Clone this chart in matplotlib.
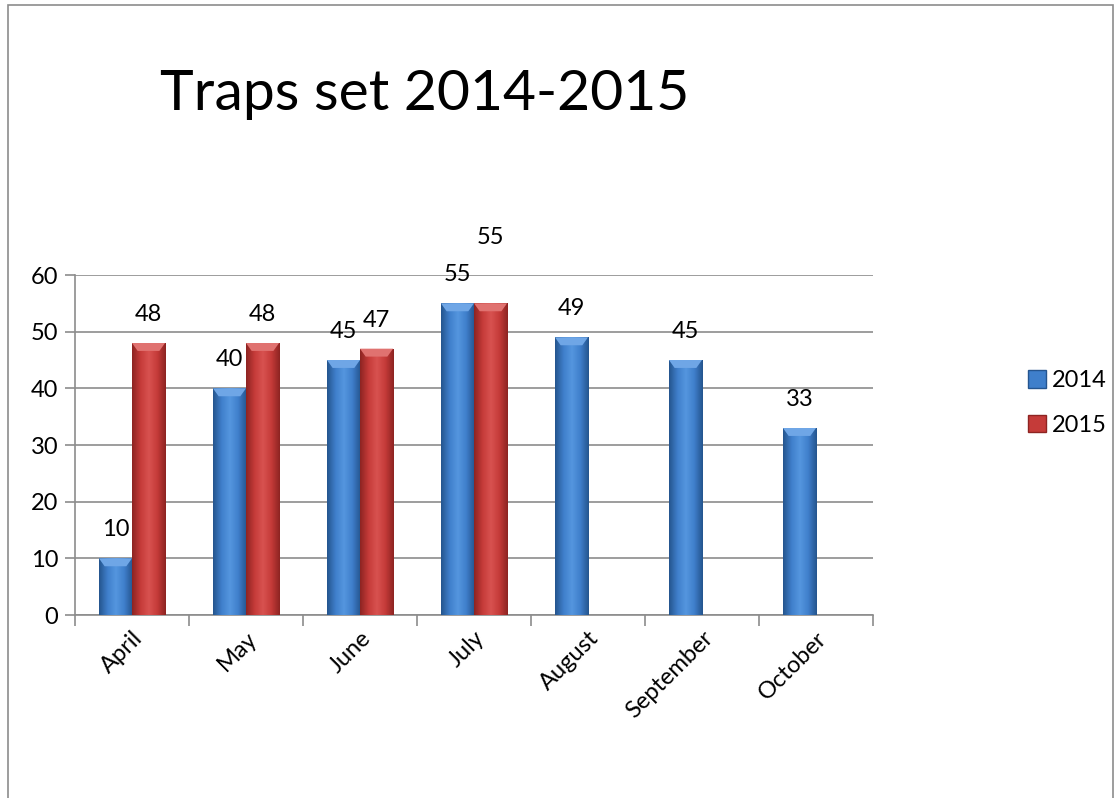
import numpy as np
import matplotlib.pyplot as plt
from matplotlib.patches import Rectangle, Patch
from matplotlib.colors import LinearSegmentedColormap

months = ['April', 'May', 'June', 'July', 'August', 'September', 'October']
traps_2014 = [10, 40, 45, 55, 49, 45, 33]
traps_2015 = [48, 48, 47, 55, None, None, None]

plt.rcParams['font.family'] = ['Lato', 'DejaVu Sans']

fig = plt.figure(figsize=(11.15, 7.98), dpi=100)
ax = fig.add_axes([75 / 1115, 1 - 615 / 798, 798 / 1115, 340 / 798])

# grey frame around the chart area
fig.patches.append(Rectangle((8 / 1115, -0.01), 1 - 10 / 1115, 1 - 5 / 798 + 0.01,
                             transform=fig.transFigure, fill=False,
                             edgecolor='#8c8c8c', linewidth=1.2))

blue_cmap = LinearSegmentedColormap.from_list('b', ['#25558f', '#3f7fcb', '#5596df', '#3f7fcb', '#25558f'])
red_cmap = LinearSegmentedColormap.from_list('r', ['#8e2422', '#c53b39', '#d85250', '#c53b39', '#8e2422'])

x = np.arange(len(months))
w = 0.29
grad = np.linspace(0, 1, 64).reshape(1, -1)


def shaded_bars(xpos, vals, cmap, top_col):
    for xi, v in zip(xpos, vals):
        if v is None:
            continue
        b = ax.bar(xi, v, width=w, color='none', edgecolor='none', zorder=3)[0]
        im = ax.imshow(grad, cmap=cmap, aspect='auto', zorder=3,
                       extent=[xi - w / 2, xi + w / 2, 0, v])
        im.set_clip_path(b)
        # bevelled top
        ax.fill([xi - w / 2, xi + w / 2, xi + w / 2 - 0.05, xi - w / 2 + 0.05],
                [v, v, v - 1.4, v - 1.4], color=top_col, zorder=4, lw=0)


shaded_bars(x - w / 2, traps_2014, blue_cmap, '#6fa6e6')
shaded_bars(x + w / 2, traps_2015, red_cmap, '#e07270')

fs = 17
# data labels
for xi, v in zip(x - w / 2, traps_2014):
    ax.text(xi, v + 3.2, str(v), ha='center', va='bottom', fontsize=fs, color='black')
for i, (xi, v) in enumerate(zip(x + w / 2, traps_2015)):
    if v is None:
        continue
    off = 9.8 if v == traps_2014[i] else 3.2
    ax.text(xi, v + off, str(v), ha='center', va='bottom', fontsize=fs, color='black')

ax.set_xlim(-0.5, len(months) - 0.5)
ax.set_ylim(0, 60)
ax.set_yticks(range(0, 61, 10))
ax.yaxis.grid(True, color='#8c8c8c', linewidth=1.2, zorder=0)
ax.set_axisbelow(True)
ax.set_xticks(x)
ax.set_xticklabels(months, rotation=45, ha='right', rotation_mode='anchor', fontsize=fs)
ax.set_xticks(np.arange(-0.5, len(months)), minor=True)
ax.tick_params(axis='x', which='major', length=0, pad=9)
ax.tick_params(axis='x', which='minor', length=8, color='#8c8c8c', width=1.2)
ax.tick_params(axis='y', length=7, color='#8c8c8c', width=1.2, labelsize=fs, pad=5)
for s in ['top', 'right']:
    ax.spines[s].set_visible(False)
for s in ['left', 'bottom']:
    ax.spines[s].set_color('#8c8c8c')
    ax.spines[s].set_linewidth(1.2)

fig.text(160 / 1115, 1 - 95 / 798, 'Traps set 2014-2015', fontsize=41,
         ha='left', va='center', color='black')

# legend
handles = [Patch(facecolor='#3f7fcb', edgecolor='#25558f'),
           Patch(facecolor='#c53b39', edgecolor='#8e2422')]
fig.legend(handles, ['2014', '2015'], loc='center left',
           bbox_to_anchor=(1007 / 1115, 1 - 403 / 798), frameon=False,
           fontsize=fs, handlelength=0.75, handleheight=0.75, handletextpad=0.25,
           labelspacing=1.0)

fig.savefig('out.png', dpi=100, facecolor='white')
